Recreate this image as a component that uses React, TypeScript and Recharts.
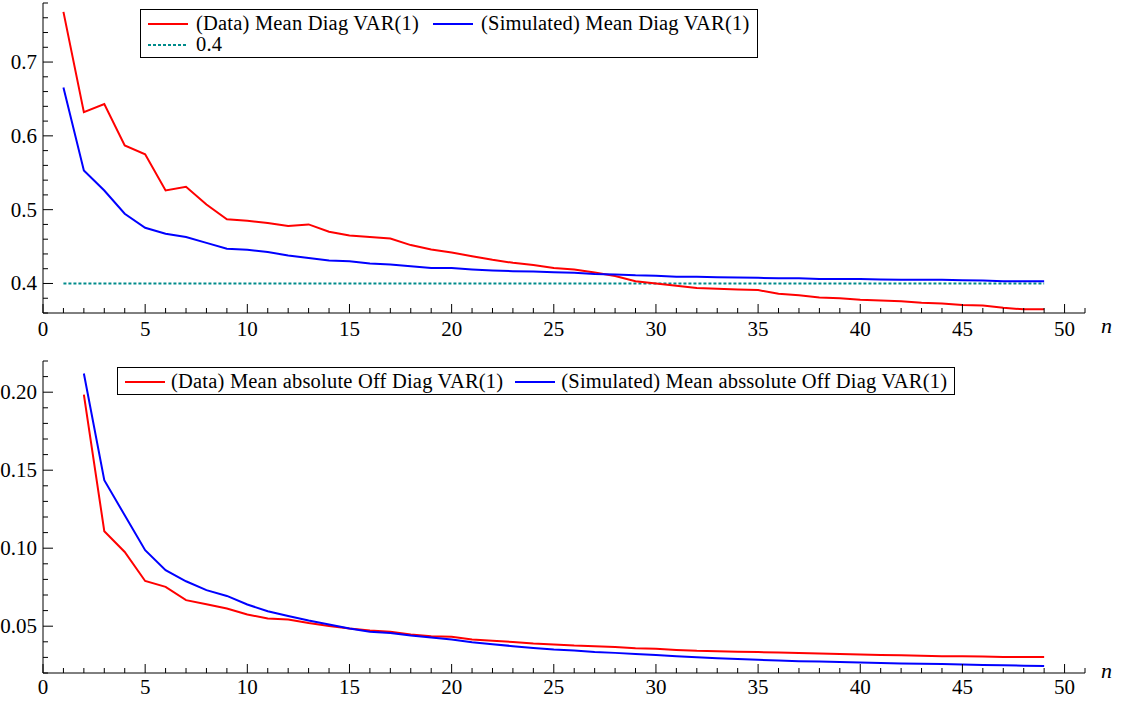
import React from "react";
import { LineChart, Line, XAxis, YAxis, ReferenceLine, Legend } from "recharts";

const FONT = '"Liberation Serif", "DejaVu Serif", serif';

// top panel: mean diagonal VAR(1) coefficients
const topN = [
  1, 2, 3, 4, 5, 6, 7, 8, 9, 10, 11, 12, 13, 14, 15, 16, 17, 18, 19, 20, 21, 22, 23, 24, 25,
  26, 27, 28, 29, 30, 31, 32, 33, 34, 35, 36, 37, 38, 39, 40, 41, 42, 43, 44, 45, 46, 47, 48, 49,
];
const dataDiag = [
  0.768, 0.632, 0.643, 0.587, 0.575, 0.526, 0.531, 0.507, 0.487, 0.485, 0.482, 0.478, 0.48,
  0.47, 0.465, 0.463, 0.461, 0.452, 0.446, 0.442, 0.437, 0.432, 0.428, 0.425, 0.421, 0.419,
  0.415, 0.41, 0.403, 0.4, 0.397, 0.394, 0.393, 0.392, 0.391, 0.386, 0.384, 0.381, 0.38, 0.378,
  0.377, 0.376, 0.374, 0.373, 0.371, 0.37, 0.367, 0.365, 0.365,
];
const simDiag = [
  0.6655, 0.553, 0.526, 0.4945, 0.4755, 0.4675, 0.463, 0.455, 0.447, 0.4457, 0.4425, 0.438,
  0.4345, 0.431, 0.43, 0.427, 0.4258, 0.4235, 0.421, 0.4208, 0.419, 0.4176, 0.4167, 0.4162,
  0.4153, 0.4145, 0.413, 0.4122, 0.411, 0.4105, 0.409, 0.409, 0.4086, 0.408, 0.4077, 0.407,
  0.407, 0.406, 0.406, 0.406, 0.4055, 0.405, 0.405, 0.405, 0.4045, 0.404, 0.403, 0.403, 0.403,
];
const diagLevel = 0.4;

// bottom panel: mean absolute off-diagonal coefficients
const botN = [
  2, 3, 4, 5, 6, 7, 8, 9, 10, 11, 12, 13, 14, 15, 16, 17, 18, 19, 20, 21, 22, 23, 24, 25, 26,
  27, 28, 29, 30, 31, 32, 33, 34, 35, 36, 37, 38, 39, 40, 41, 42, 43, 44, 45, 46, 47, 48, 49,
];
const dataOffDiag = [
  0.1985, 0.1109, 0.0976, 0.079, 0.0752, 0.0667, 0.0641, 0.0613, 0.0575, 0.0549, 0.0543,
  0.0521, 0.0502, 0.0485, 0.0472, 0.0464, 0.0447, 0.0436, 0.0432, 0.0415, 0.0406, 0.0399,
  0.0389, 0.0383, 0.0376, 0.0372, 0.0366, 0.0359, 0.0355, 0.0348, 0.0342, 0.034, 0.0336,
  0.0334, 0.0331, 0.0328, 0.0325, 0.0322, 0.0319, 0.0316, 0.0314, 0.0311, 0.0308, 0.0307,
  0.0305, 0.0302, 0.0303, 0.0303,
];
const simOffDiag = [
  0.212, 0.1436, 0.1211, 0.0987, 0.0859, 0.0788, 0.0731, 0.0694, 0.0639, 0.0596, 0.0566,
  0.0536, 0.0511, 0.0485, 0.0464, 0.0457, 0.044, 0.0428, 0.0415, 0.0397, 0.0385, 0.0372,
  0.0361, 0.0351, 0.0344, 0.0335, 0.0329, 0.0322, 0.0316, 0.0308, 0.0301, 0.0295, 0.0289,
  0.0285, 0.028, 0.0276, 0.0273, 0.027, 0.0267, 0.0264, 0.0261, 0.0259, 0.0257, 0.0255,
  0.0252, 0.0249, 0.0247, 0.0245,
];

// ticks
const xTicks = Array.from({ length: 52 }, (_, i) => i);
const xMajor = [0, 5, 10, 15, 20, 25, 30, 35, 40, 45, 50];
const topYTicks = [
  0.36, 0.38, 0.4, 0.42, 0.44, 0.46, 0.48, 0.5, 0.52, 0.54, 0.56, 0.58, 0.6, 0.62, 0.64, 0.66,
  0.68, 0.7, 0.72, 0.74, 0.76, 0.78,
];
const topYMajor = [0.4, 0.5, 0.6, 0.7];
const botYTicks = [
  0.02, 0.03, 0.04, 0.05, 0.06, 0.07, 0.08, 0.09, 0.1, 0.11, 0.12, 0.13, 0.14, 0.15, 0.16, 0.17,
  0.18, 0.19, 0.2, 0.21, 0.22,
];
const botYMajor = [0.05, 0.1, 0.15, 0.2];

const topRows = topN.map((n, i) => ({ n, data: dataDiag[i], sim: simDiag[i] }));
const botRows = botN.map((n, i) => ({ n, data: dataOffDiag[i], sim: simOffDiag[i] }));

const RED = "#ff0000";
const BLUE = "#0000ff";
const TEAL = "#008b8b";

const tickText = { fontFamily: FONT, fontSize: 21, fill: "#000" };

function makeXTick(labelDy: number) {
  return (props: any) => {
    const { x, y, payload } = props;
    const major = xMajor.includes(payload.value);
    return (
      <g>
        <line x1={x} x2={x} y1={y} y2={y - (major ? 9 : 5)} stroke="#000" strokeWidth={1} />
        {major && (
          <text x={x} y={y + labelDy} textAnchor="middle" style={tickText}>
            {payload.value}
          </text>
        )}
      </g>
    );
  };
}

function makeYTick(majors: number[], digits: number) {
  return (props: any) => {
    const { x, y, payload } = props;
    const major = majors.some((m) => Math.abs(m - payload.value) < 1e-9);
    return (
      <g>
        <line x1={x} x2={x + (major ? 10 : 5)} y1={y} y2={y} stroke="#000" strokeWidth={1} />
        {major && (
          <text x={x - 6} y={y + 7} textAnchor="end" style={tickText}>
            {payload.value.toFixed(digits)}
          </text>
        )}
      </g>
    );
  };
}

function NLabel(props: any) {
  const vb = props.viewBox || { x: 0, y: 0, width: 0 };
  return (
    <text
      x={vb.x + vb.width + 16}
      y={vb.y + props.dy}
      style={{ fontFamily: FONT, fontStyle: "italic", fontSize: 22, fill: "#000" }}
    >
      n
    </text>
  );
}

type LegendItem = { label: string; color: string; dotted?: boolean };

function LegendBox({ rows, gap, itemGap }: { rows: LegendItem[][]; gap: number; itemGap: number }) {
  return (
    <div
      style={{
        border: "1px solid #000",
        background: "#fff",
        padding: "3px 7px 2px 7px",
        fontFamily: FONT,
        fontSize: 20.5,
        letterSpacing: 0.2,
        lineHeight: "21px",
        color: "#000",
        whiteSpace: "nowrap",
      }}
    >
      {rows.map((row, i) => (
        <div key={i} style={{ display: "flex", alignItems: "center", gap: itemGap, height: 21 }}>
          {row.map((item) => (
            <div key={item.label} style={{ display: "flex", alignItems: "center", gap, flexShrink: 0 }}>
              <svg width={40} height={6} style={{ display: "block", flexShrink: 0, minWidth: 40 }}>
                <line
                  x1={0}
                  x2={40}
                  y1={3}
                  y2={3}
                  stroke={item.color}
                  strokeWidth={2}
                  strokeDasharray={item.dotted ? "3 2" : undefined}
                />
              </svg>
              <span style={{ display: "block", height: 21, lineHeight: "21px", flexShrink: 0 }}>{item.label}</span>
            </div>
          ))}
        </div>
      ))}
    </div>
  );
}

const topLegend: LegendItem[][] = [
  [
    { label: "(Data) Mean Diag VAR(1)", color: RED },
    { label: "(Simulated) Mean Diag VAR(1)", color: BLUE },
  ],
  [{ label: "0.4", color: TEAL, dotted: true }],
];
const botLegend: LegendItem[][] = [
  [
    { label: "(Data) Mean absolute Off Diag VAR(1)", color: RED },
    { label: "(Simulated) Mean abssolute Off Diag VAR(1)", color: BLUE },
  ],
];

export default function App() {
  return (
    <div
      style={{
        position: "absolute",
        left: 0,
        top: 0,
        width: 1121,
        height: 702,
        background: "#fff",
        fontFamily: FONT,
      }}
    >
      <LineChart width={1121} height={345} data={topRows} margin={{ top: 3, right: 36, bottom: 0, left: 0 }}>
        <XAxis
          type="number"
          dataKey="n"
          domain={[0, 51]}
          ticks={xTicks}
          interval={0}
          tickSize={0}
          tickMargin={0}
          tickLine={false}
          axisLine={{ stroke: "#000", strokeWidth: 1 }}
          tick={makeXTick(23)}
          height={32}
          allowDataOverflow
          label={<NLabel dy={20} />}
        />
        <YAxis
          type="number"
          domain={[0.36, 0.78]}
          ticks={topYTicks}
          interval={0}
          tickSize={0}
          tickMargin={0}
          tickLine={false}
          axisLine={{ stroke: "#000", strokeWidth: 1 }}
          tick={makeYTick(topYMajor, 1)}
          width={43}
          allowDataOverflow
        />
        <ReferenceLine
          segment={[
            { x: 1, y: diagLevel },
            { x: 49, y: diagLevel },
          ]}
          stroke={TEAL}
          strokeWidth={2}
          strokeDasharray="3 2"
        />
        <Line type="linear" dataKey="data" stroke={RED} strokeWidth={2} dot={false} isAnimationActive={false} />
        <Line type="linear" dataKey="sim" stroke={BLUE} strokeWidth={2} dot={false} isAnimationActive={false} />
        <Legend
          verticalAlign="middle"
          align="center"
          wrapperStyle={{ left: 140, top: 9, width: 700 }}
          content={() => (
            <div style={{ display: "inline-block" }}>
              <LegendBox rows={topLegend} gap={8} itemGap={14} />
            </div>
          )}
        />
      </LineChart>
      <LineChart width={1121} height={357} data={botRows} margin={{ top: 16, right: 36, bottom: 0, left: 0 }}>
        <XAxis
          type="number"
          dataKey="n"
          domain={[0, 51]}
          ticks={xTicks}
          interval={0}
          tickSize={0}
          tickMargin={0}
          tickLine={false}
          axisLine={{ stroke: "#000", strokeWidth: 1 }}
          tick={makeXTick(21)}
          height={29}
          allowDataOverflow
          label={<NLabel dy={5} />}
        />
        <YAxis
          type="number"
          domain={[0.02, 0.22]}
          ticks={botYTicks}
          interval={0}
          tickSize={0}
          tickMargin={0}
          tickLine={false}
          axisLine={{ stroke: "#000", strokeWidth: 1 }}
          tick={makeYTick(botYMajor, 2)}
          width={43}
          allowDataOverflow
        />
        <Line type="linear" dataKey="data" stroke={RED} strokeWidth={2} dot={false} isAnimationActive={false} />
        <Line type="linear" dataKey="sim" stroke={BLUE} strokeWidth={2} dot={false} isAnimationActive={false} />
        <Legend
          verticalAlign="middle"
          align="center"
          wrapperStyle={{ left: 117, top: 22, width: 900 }}
          content={() => (
            <div style={{ display: "inline-block" }}>
              <LegendBox rows={botLegend} gap={6} itemGap={12} />
            </div>
          )}
        />
      </LineChart>
    </div>
  );
}
